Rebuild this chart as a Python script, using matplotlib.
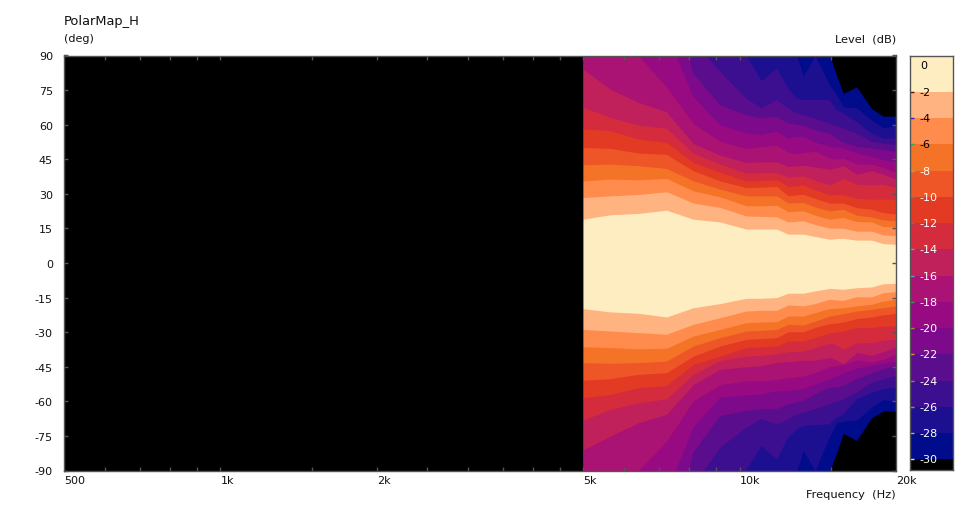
import matplotlib
matplotlib.use("Agg")
import matplotlib.pyplot as plt

plt.rcParams['font.family'] = 'DejaVu Sans'

# frequency columns (Hz)
freqs = [5000, 5630, 6380, 7230, 8140, 9170, 10300, 11020, 11790, 12400,
         12880, 13260, 13970, 14900, 15380, 15830, 16800, 17950, 18900, 20000]

levels = [-30, -28, -26, -24, -22, -20, -18, -16, -14, -12, -10, -8, -6, -4, -2]

# angle where the level is crossed above the axis (deg)
up_30 = [100, 100, 100, 100, 100, 100, 100, 100, 100, 100, 100, 100, 100, 90.5, 81.2, 73.6, 76.4, 67.0, 63.7, 63.7]
up_28 = [100, 100, 100, 100, 100, 100, 100, 100, 100, 100, 90, 81, 90, 77.2, 72.8, 67.8, 67.3, 62.0, 58.6, 59.5]
up_26 = [120, 120, 120, 120, 110, 100, 90, 78.9, 84.4, 75.7, 71.4, 70.7, 70.7, 70.7, 66.3, 64.9, 61.2, 56.2, 54.0, 54.0]
up_24 = [130, 130, 130, 120, 96.6, 83.0, 71.4, 67.0, 70.7, 67.0, 64.9, 64.1, 62.7, 60.5, 59.1, 58.4, 56.2, 52.6, 51.8, 51.1]
up_22 = [130, 130, 130, 130, 82.2, 68.5, 64.1, 62.7, 63.4, 60.5, 60.1, 59.5, 57.6, 56.2, 54.0, 52.3, 50.4, 49.7, 48.9, 48.2]
up_20 = [110, 110, 105, 100, 72.1, 59.8, 56.2, 55.5, 56.9, 54.0, 54.7, 54.7, 52.3, 50.4, 50.0, 49.7, 47.5, 46.0, 44.6, 43.6]
up_18 = [92, 91, 90, 76.4, 60.5, 52.8, 49.7, 50.4, 51.1, 47.9, 47.5, 47.9, 48.5, 45.5, 45.0, 45.5, 43.0, 42.9, 41.5, 39.2]
up_16 = [84.1, 75.4, 69.7, 65.6, 51.8, 46.8, 43.6, 43.9, 43.9, 41.9, 42.2, 42.4, 41.6, 40.7, 41.4, 42.2, 38.5, 40.0, 38.5, 36.4]
up_14 = [67.5, 63.2, 59.8, 58.4, 47.6, 42.9, 39.0, 39.1, 39.2, 37.2, 37.5, 37.8, 35.9, 33.9, 35.3, 36.6, 34.2, 33.8, 34.2, 32.7]
up_12 = [58.1, 57.4, 53.7, 52.3, 43.6, 39.3, 35.6, 35.8, 36.1, 33.2, 33.5, 33.8, 31.7, 29.6, 29.6, 29.6, 28.0, 27.7, 27.7, 27.7]
up_10 = [50.1, 49.7, 47.7, 47.1, 40.0, 35.6, 32.7, 32.9, 33.2, 29.1, 29.6, 29.8, 28.0, 26.0, 26.0, 26.0, 24.0, 23.3, 21.9, 21.2]
up_8 = [42.6, 42.9, 42.2, 41.0, 35.6, 32.0, 29.1, 29.1, 29.1, 26.0, 26.2, 26.2, 24.3, 22.6, 23.0, 23.3, 20.7, 20.0, 18.7, 18.3]
up_6 = [35.6, 36.4, 36.1, 36.7, 31.3, 28.7, 24.8, 24.8, 25.1, 22.2, 22.5, 22.6, 20.7, 19.0, 19.4, 19.7, 18.0, 17.8, 15.8, 15.7]
up_4 = [28.4, 29.1, 29.7, 30.9, 26.0, 24.1, 20.4, 20.2, 20.0, 17.8, 18.1, 18.3, 16.7, 15.1, 15.1, 15.1, 13.8, 13.8, 12.2, 12.0]
up_2 = [19.0, 20.9, 21.5, 22.9, 19.0, 17.8, 14.7, 14.7, 14.7, 12.5, 12.5, 12.5, 11.5, 10.3, 10.6, 10.7, 9.9, 9.9, 8.4, 8.1]

# same crossings below the axis
lo_30 = [-100, -100, -100, -100, -100, -100, -100, -100, -100, -100, -100, -100, -100, -90.5, -82.3, -73.9, -77.0, -67.1, -64.2, -64.2]
lo_28 = [-100, -100, -100, -100, -100, -100, -100, -100, -100, -100, -90, -81.3, -90, -75.1, -69.3, -68.6, -68.1, -62.5, -59.2, -60.3]
lo_26 = [-120, -120, -120, -120, -110, -100, -89.9, -79.4, -85.2, -75.8, -72.2, -70.8, -70.3, -70.0, -67.1, -65.7, -59.2, -56.3, -54.8, -54.1]
lo_24 = [-130, -130, -130, -120, -97, -80.2, -71.5, -67.6, -70.0, -67.9, -65.7, -65.0, -63.5, -61.3, -60.0, -59.2, -56.3, -52.0, -50.5, -49.0]
lo_22 = [-130, -130, -130, -130, -82.3, -66.4, -64.2, -63.5, -63.5, -61.3, -60.5, -59.9, -57.0, -54.1, -54.0, -53.4, -50.5, -47.9, -46.1, -44.7]
lo_20 = [-110, -110, -105, -100, -71.5, -58.4, -57.4, -57.0, -55.6, -55.6, -55.0, -54.8, -52.7, -50.5, -49.3, -47.9, -45.9, -44.7, -43.5, -43.0]
lo_18 = [-92, -91, -90, -77.3, -59.9, -52.7, -51.2, -51.2, -50.5, -49.8, -49.3, -49.0, -47.6, -45.0, -44.5, -44.0, -42.0, -43.0, -41.8, -39.5]
lo_16 = [-81.0, -75.1, -69.3, -65.7, -52.7, -46.1, -45.0, -44.5, -43.2, -42.8, -42.5, -42.2, -42.2, -41.0, -42.2, -43.7, -38.9, -40.0, -38.5, -36.4]
lo_14 = [-68.1, -63.5, -60.6, -58.9, -48.3, -42.3, -40.4, -40.1, -39.3, -38.5, -38.3, -38.2, -36.7, -34.6, -35.6, -37.5, -34.6, -34.6, -33.5, -33.1]
lo_12 = [-58.4, -57.0, -54.1, -53.1, -44.0, -40.4, -36.7, -36.4, -36.0, -33.8, -33.8, -33.8, -32.4, -30.2, -29.9, -29.5, -28.0, -28.0, -27.3, -27.3]
lo_10 = [-50.8, -50.2, -48.3, -47.6, -40.4, -36.0, -33.1, -32.8, -32.4, -29.8, -29.8, -29.8, -28.0, -26.3, -26.0, -25.6, -24.1, -23.4, -22.5, -21.8]
lo_8 = [-43.2, -43.5, -43.2, -42.5, -36.0, -32.4, -29.5, -29.2, -28.8, -26.6, -26.8, -26.9, -25.2, -23.0, -22.5, -22.0, -20.8, -20.1, -19.4, -18.6]
lo_6 = [-36.3, -36.7, -37.2, -37.0, -31.7, -28.8, -25.9, -25.6, -25.4, -23.0, -23.0, -23.0, -21.5, -19.8, -19.6, -19.4, -18.6, -17.9, -16.5, -15.7]
lo_4 = [-28.8, -29.5, -30.2, -30.9, -26.6, -23.7, -20.8, -20.5, -20.5, -18.2, -18.4, -18.6, -17.6, -15.7, -16.0, -16.2, -14.6, -14.7, -12.9, -12.4]
lo_2 = [-19.8, -21.2, -21.8, -23.4, -19.4, -17.6, -15.3, -15.3, -15.0, -13.1, -13.1, -13.1, -12.1, -11.0, -11.2, -11.4, -10.7, -10.4, -9.0, -8.8]

upper = [up_30, up_28, up_26, up_24, up_22, up_20, up_18, up_16, up_14, up_12, up_10, up_8, up_6, up_4, up_2]
lower = [lo_30, lo_28, lo_26, lo_24, lo_22, lo_20, lo_18, lo_16, lo_14, lo_12, lo_10, lo_8, lo_6, lo_4, lo_2]

# colour inside each level, -30 band first, cream last
band_colors = ['#000c8c', '#1d1090', '#3c0e90', '#5a0d8c', '#7c0a8a', '#970a82',
               '#aa1273', '#c0215a', '#d42c3c', '#e33a24', '#ee5627', '#f47327',
               '#ff8c4d', '#ffb380', '#ffedc2']

deg_ticks = [90, 75, 60, 45, 30, 15, 0, -15, -30, -45, -60, -75, -90]
freq_labels = {500: '500', 1000: '1k', 2000: '2k', 5000: '5k', 10000: '10k', 20000: '20k'}
freq_minor = [600, 700, 800, 900, 1000, 1500, 2000, 2500, 3000, 3500, 4000, 4500, 5000,
              6000, 7000, 8000, 9000, 10000, 15000]

bar_ticks = [0, -2, -4, -6, -8, -10, -12, -14, -16, -18, -20, -22, -24, -26, -28, -30]
bar_tick_colors = ['#ffedc2', '#5a1010', '#3020c0', '#20b060', '#30e070', '#20a090',
                   '#2090b0', '#40b0e0', '#40b0c0', '#30a050', '#a09020', '#e09030',
                   '#909020', '#a0a010', '#c0c010', '#e0e0e0']
bar_text_colors = ['black', 'black', 'black', 'black'] + ['white'] * 12

W, H = 967, 506
edge = '#555555'
fig = plt.figure(figsize=(W / 100, H / 100), dpi=100, facecolor='white')


def axes_px(x0, y0, x1, y1):
    return fig.add_axes([x0 / W, 1 - y1 / H, (x1 - x0) / W, (y1 - y0) / H])


ax = axes_px(64, 56.5, 896, 471.5)
ax.set_facecolor('black')
ax.set_xscale('log')
ax.set_xlim(500, 20000)
ax.set_ylim(-90, 90)

for up, lo, c in zip(upper, lower, band_colors):
    ax.fill_between(freqs, lo, up, color=c, linewidth=0)

ax.set_yticks(deg_ticks)
ax.set_yticklabels([str(d) for d in deg_ticks], fontsize=8, color='#111111')
ax.set_xticks([])
ax.set_xticks(freq_minor, labels=[], minor=True)
ax.tick_params(axis='y', direction='in', length=3, width=1, color=edge, left=True, right=True, pad=8)
ax.tick_params(axis='x', which='minor', direction='in', length=3, width=1, color=edge, top=True, bottom=True)
for s in ax.spines.values():
    s.set_color(edge)
    s.set_linewidth(1)

for f, lab in freq_labels.items():
    ax.annotate(lab, (f, -90), xytext=(0, -7), textcoords='offset points',
                ha='left', va='center', fontsize=8, color='#111111', annotation_clip=False)

fig.text(64 / W, 1 - 21 / H, 'PolarMap_H', fontsize=9.4, va='center', color='#111111')
fig.text(64 / W, 1 - 39 / H, '(deg)', fontsize=8, va='center', color='#111111')
fig.text(896 / W, 1 - 39 / H, 'Level  (dB)', fontsize=8.2, va='center', ha='right', color='#111111')
fig.text(896 / W, 1 - 495 / H, 'Frequency  (Hz)', fontsize=8.2, va='center', ha='right', color='#111111')

# colour bar
cax = axes_px(909.5, 56.5, 953, 471)
cax.set_xlim(0, 1)
cax.set_ylim(-30.8, 0.76)
cax.set_facecolor('black')
for level, c in zip(levels, band_colors):
    cax.barh(level, 1, height=0.76 - level, left=0, align='edge', color=c, linewidth=0)
cax.set_xticks([])
cax.set_yticks([])
for t, tc, txt in zip(bar_ticks, bar_tick_colors, bar_text_colors):
    cax.plot([0, 0.1], [t, t], color=tc, linewidth=1, solid_capstyle='butt')
    cax.text(0.24, t, str(t), color=txt, fontsize=8, va='center', ha='left')
for s in cax.spines.values():
    s.set_color(edge)
    s.set_linewidth(1)

fig.savefig('out.png', dpi=100)
